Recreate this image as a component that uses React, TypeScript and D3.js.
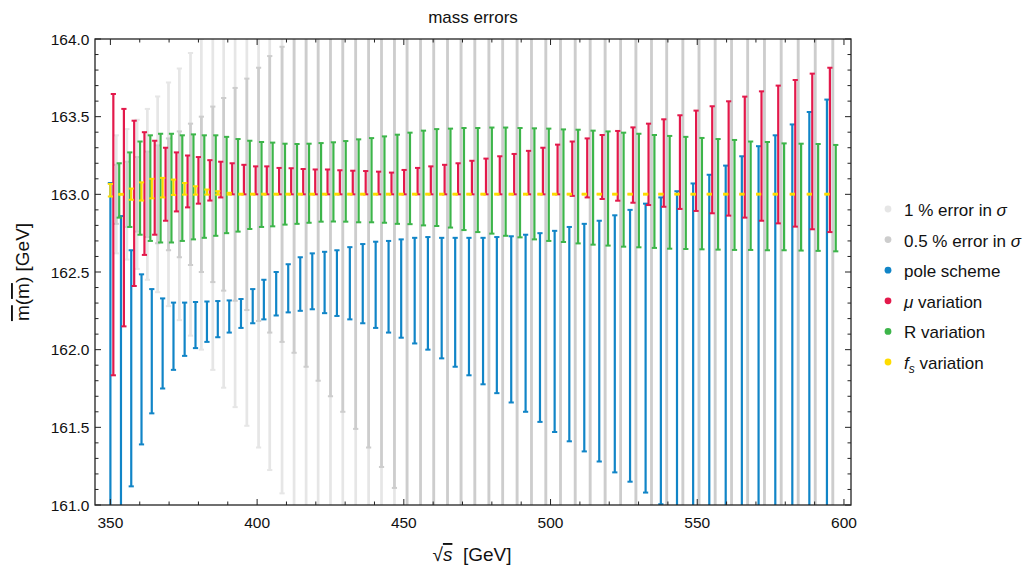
import React from 'react';
import * as d3 from 'd3';

// sqrt(s) of each group of error bars [GeV]
const sqrtS = [350.0, 353.6, 357.1, 360.6, 364.1, 367.8, 371.5, 375.3, 379.0, 382.9, 386.6, 390.5, 394.5, 398.5, 402.3, 406.5, 410.6, 414.7, 418.8, 423.0, 427.2, 431.6, 436.0, 440.4, 444.8, 449.1, 453.7, 458.2, 462.9, 467.5, 472.2, 477.0, 481.7, 486.6, 491.5, 496.4, 501.4, 506.4, 511.5, 516.6, 521.9, 527.1, 532.4, 537.6, 543.1, 548.6, 554.1, 559.7, 565.2, 570.9, 576.6, 582.4, 588.2, 594.2];

// half widths of the sigma-error bands (centred on 163.0)
const err1pct = [0.38, 0.42, 0.48, 0.55, 0.63, 0.72, 0.81, 0.91, 1.00, 1.13, 1.245, 1.37, 1.49, 1.63, 1.775, 1.925, 2.04, 2.22, 2.40, 2.60, 2.80, 3.02, 3.26, 3.51, 3.78, 4.06, 4.36, 4.68, 5.02, 5.38, 5.76, 6.16, 6.58, 7.02, 7.48, 7.96, 8.46, 8.98, 9.52, 10.08, 10.66, 11.26, 11.88, 12.52, 13.18, 13.86, 14.56, 15.28, 16.02, 16.78, 17.56, 18.36, 19.18, 20.0];
const err05pct = [0.19, 0.21, 0.24, 0.275, 0.315, 0.36, 0.405, 0.455, 0.50, 0.565, 0.62, 0.685, 0.745, 0.815, 0.89, 0.95, 1.02, 1.11, 1.20, 1.30, 1.40, 1.51, 1.63, 1.755, 1.89, 2.03, 2.18, 2.34, 2.51, 2.69, 2.88, 3.08, 3.29, 3.51, 3.74, 3.98, 4.23, 4.49, 4.76, 5.04, 5.33, 5.63, 5.94, 6.26, 6.59, 6.93, 7.28, 7.64, 8.01, 8.39, 8.78, 9.18, 9.59, 10.0];

// pole scheme
const poleLo = [160.0, 160.6, 161.12, 161.39, 161.59, 161.75, 161.87, 161.96, 162.01, 162.05, 162.08, 162.11, 162.14, 162.17, 162.195, 162.22, 162.24, 162.25, 162.26, 162.235, 162.217, 162.195, 162.17, 162.14, 162.11, 162.077, 162.04, 162.0, 161.944, 161.89, 161.835, 161.777, 161.72, 161.66, 161.60, 161.535, 161.47, 161.41, 161.345, 161.28, 161.21, 161.15, 161.08, 161.005, 160.93, 160.85, 160.77, 160.69, 160.6, 160.5, 160.4, 160.3, 160.2, 160.1];
const poleHi = [163.073, 162.86, 162.64, 162.485, 162.39, 162.33, 162.303, 162.303, 162.307, 162.31, 162.313, 162.317, 162.326, 162.39, 162.45, 162.50, 162.55, 162.595, 162.62, 162.63, 162.64, 162.66, 162.68, 162.695, 162.70, 162.71, 162.72, 162.725, 162.72, 162.72, 162.72, 162.72, 162.725, 162.73, 162.74, 162.75, 162.765, 162.79, 162.81, 162.83, 162.865, 162.90, 162.94, 162.98, 163.02, 163.07, 163.126, 163.185, 163.245, 163.31, 163.38, 163.45, 163.53, 163.61];

// mu variation
const muLo = [161.835, 162.15, 162.41, 162.61, 162.74, 162.83, 162.89, 162.916, 162.94, 162.96, 162.98, 163.0, 163.0, 163.0, 163.0, 163.0, 163.0, 163.0, 163.0, 163.0, 163.0, 163.0, 163.0, 163.0, 163.0, 163.0, 163.0, 163.0, 163.0, 163.0, 163.0, 163.0, 163.0, 163.0, 163.0, 163.0, 163.0, 162.99, 162.98, 162.97, 162.959, 162.946, 162.931, 162.92, 162.906, 162.893, 162.878, 162.863, 162.85, 162.83, 162.813, 162.792, 162.775, 162.757];
const muHi = [163.646, 163.55, 163.474, 163.40, 163.345, 163.30, 163.27, 163.25, 163.24, 163.22, 163.21, 163.20, 163.19, 163.18, 163.18, 163.17, 163.168, 163.163, 163.16, 163.16, 163.155, 163.152, 163.15, 163.146, 163.14, 163.157, 163.17, 163.18, 163.19, 163.20, 163.216, 163.23, 163.245, 163.26, 163.28, 163.30, 163.32, 163.34, 163.36, 163.382, 163.408, 163.431, 163.455, 163.483, 163.509, 163.539, 163.567, 163.599, 163.629, 163.663, 163.70, 163.736, 163.777, 163.815];

// R variation
const rLo = [162.85, 162.79, 162.74, 162.70, 162.69, 162.69, 162.70, 162.71, 162.72, 162.733, 162.75, 162.76, 162.777, 162.79, 162.794, 162.805, 162.81, 162.817, 162.824, 162.825, 162.824, 162.82, 162.82, 162.817, 162.81, 162.808, 162.80, 162.796, 162.786, 162.77, 162.757, 162.747, 162.733, 162.723, 162.71, 162.70, 162.693, 162.684, 162.676, 162.67, 162.663, 162.659, 162.655, 162.65, 162.648, 162.646, 162.644, 162.642, 162.642, 162.64, 162.64, 162.638, 162.636, 162.633];
const rHi = [163.20, 163.27, 163.34, 163.38, 163.39, 163.39, 163.38, 163.386, 163.38, 163.38, 163.37, 163.356, 163.345, 163.337, 163.333, 163.326, 163.324, 163.326, 163.33, 163.335, 163.343, 163.354, 163.362, 163.373, 163.384, 163.397, 163.41, 163.42, 163.423, 163.427, 163.427, 163.43, 163.43, 163.427, 163.425, 163.423, 163.418, 163.416, 163.41, 163.405, 163.397, 163.39, 163.382, 163.376, 163.37, 163.363, 163.356, 163.35, 163.34, 163.337, 163.328, 163.326, 163.324, 163.318];

// f_s variation
const fsLo = [162.986, 162.997, 162.965, 162.96, 162.974, 162.98, 162.996, 162.998, 162.998, 162.998, 162.998, 162.998, 162.998, 162.998, 162.998, 162.998, 162.998, 162.998, 162.998, 162.998, 162.998, 162.998, 162.998, 162.998, 162.998, 162.998, 162.998, 162.998, 162.998, 162.998, 162.998, 162.998, 162.998, 162.998, 162.998, 162.998, 162.998, 162.998, 162.998, 162.998, 162.998, 162.998, 162.998, 162.998, 162.998, 162.998, 162.998, 162.998, 162.998, 162.998, 162.998, 162.998, 162.998, 162.998];
const fsHi = [163.067, 163.003, 163.037, 163.077, 163.10, 163.106, 163.095, 163.073, 163.052, 163.031, 163.02, 163.01, 163.004, 163.004, 163.004, 163.004, 163.004, 163.004, 163.004, 163.004, 163.004, 163.004, 163.004, 163.004, 163.004, 163.004, 163.004, 163.004, 163.004, 163.004, 163.004, 163.004, 163.004, 163.004, 163.004, 163.004, 163.004, 163.004, 163.004, 163.004, 163.004, 163.004, 163.004, 163.004, 163.004, 163.004, 163.004, 163.004, 163.004, 163.004, 163.004, 163.004, 163.004, 163.004];

const CENTRAL = 163.0;
const xTickValues = [350, 400, 450, 500, 550, 600];
const yTickValues = [161.0, 161.5, 162.0, 162.5, 163.0, 163.5, 164.0];

const FONT = '"Liberation Sans", Arial, Helvetica, sans-serif';

type Series = { name: string; lo: number[]; hi: number[]; color: string; dx: number; w: number };

const seriesList: Series[] = [
  { name: '1 % error in σ', lo: err1pct.map((e) => CENTRAL - e), hi: err1pct.map((e) => CENTRAL + e), color: '#e6e6e6', dx: 2, w: 2.7 },
  { name: '0.5 % error in σ', lo: err05pct.map((e) => CENTRAL - e), hi: err05pct.map((e) => CENTRAL + e), color: '#cdcdcd', dx: 2, w: 2.7 },
  { name: 'pole scheme', lo: poleLo, hi: poleHi, color: '#1185c7', dx: 0, w: 2.2 },
  { name: 'mu', lo: muLo, hi: muHi, color: '#e3194b', dx: 1, w: 2.2 },
  { name: 'R variation', lo: rLo, hi: rHi, color: '#3db54a', dx: 3, w: 2.2 },
  { name: 'fs', lo: fsLo, hi: fsHi, color: '#fedc00', dx: 0, w: 2.2 },
];

export default function App() {
  const W = 1028;
  const H = 570;
  const L = 95, R = 851, T = 39, B = 505;
  const x = d3.scaleLinear().domain([344.75, 602.4]).range([L, R]);
  const y = d3.scaleLinear().domain([161, 164]).range([B, T]);

  const xMinor = d3.range(350, 601, 10).filter((v) => v % 50 !== 0);
  const yMinor = d3.range(0, 31).map((i) => 161 + i * 0.1).filter((v, i) => i % 5 !== 0);
  const capHalf = 2.6;

  const legendY0 = 210;
  const legendDy = 30.6;

  return (
    <svg width={W} height={H} viewBox={`0 0 ${W} ${H}`} style={{ position: 'absolute', left: 0, top: 0, background: '#fff' }} fontFamily={FONT}>
      <defs>
        <clipPath id="plotclip">
          <rect x={L} y={T} width={R - L} height={B - T} />
        </clipPath>
      </defs>
      <rect x={0} y={0} width={W} height={H} fill="#fff" />
      <g clipPath="url(#plotclip)">
        {seriesList.map((s, si) => (
          <g key={si} stroke={s.color} fill="none">
            {sqrtS.map((sv, i) => {
              const cx = x(sv + s.dx);
              const y1 = y(s.hi[i]);
              const y2 = y(s.lo[i]);
              return (
                <g key={i}>
                  <line x1={cx} x2={cx} y1={y1} y2={y2} strokeWidth={s.w} />
                  <line x1={cx - capHalf} x2={cx + capHalf} y1={y1} y2={y1} strokeWidth={2} />
                  <line x1={cx - capHalf} x2={cx + capHalf} y1={y2} y2={y2} strokeWidth={2} />
                </g>
              );
            })}
          </g>
        ))}
      </g>
      {/* frame */}
      <rect x={L} y={T} width={R - L} height={B - T} fill="none" stroke="#222" strokeWidth={1.3} />
      {/* x ticks */}
      <g stroke="#222" strokeWidth={1}>
        {xTickValues.map((v) => (
          <g key={'xt' + v}>
            <line x1={x(v)} x2={x(v)} y1={B} y2={B - 6} />
            <line x1={x(v)} x2={x(v)} y1={T} y2={T + 6} />
          </g>
        ))}
        {xMinor.map((v) => (
          <g key={'xm' + v}>
            <line x1={x(v)} x2={x(v)} y1={B} y2={B - 3.5} />
            <line x1={x(v)} x2={x(v)} y1={T} y2={T + 3.5} />
          </g>
        ))}
        {yTickValues.map((v) => (
          <g key={'yt' + v}>
            <line x1={L} x2={L + 6} y1={y(v)} y2={y(v)} />
            <line x1={R} x2={R - 6} y1={y(v)} y2={y(v)} />
          </g>
        ))}
        {yMinor.map((v, i) => (
          <g key={'ym' + i}>
            <line x1={L} x2={L + 3.5} y1={y(v)} y2={y(v)} />
            <line x1={R} x2={R - 3.5} y1={y(v)} y2={y(v)} />
          </g>
        ))}
      </g>
      <g fontSize={15.5} fill="#111">
        {xTickValues.map((v) => (
          <text key={'xl' + v} x={x(v)} y={528} textAnchor="middle">{v}</text>
        ))}
        {yTickValues.map((v) => (
          <text key={'yl' + v} x={89.5} y={y(v) + 5.5} textAnchor="end">{v.toFixed(1)}</text>
        ))}
      </g>
      {/* title */}
      <text x={(L + R) / 2} y={23} textAnchor="middle" fontSize={17} fill="#111">mass errors</text>
      {/* x label */}
      <text x={472} y={561} textAnchor="middle" fontSize={19} fill="#111">
        <tspan>√</tspan>
        <tspan fontStyle="italic" style={{ textDecoration: 'overline' }}>s</tspan>
        <tspan>{'\u00a0 [GeV]'}</tspan>
      </text>
      {/* y label */}
      <text transform={`translate(29,${(T + B) / 2}) rotate(-90)`} textAnchor="middle" fontSize={19} fill="#111">
        <tspan style={{ textDecoration: 'overline' }}>m</tspan>
        <tspan>(</tspan>
        <tspan style={{ textDecoration: 'overline' }}>m</tspan>
        <tspan>) [GeV]</tspan>
      </text>
      {/* legend */}
      <g fontSize={17} fill="#111">
        {seriesList.map((s, i) => {
          const ly = legendY0 + i * legendDy;
          return (
            <g key={'lg' + i}>
              <circle cx={888} cy={ly - 1} r={3.4} fill={s.color} />
              <text x={904} y={ly + 6}>
                {i === 0 && <>1 % error in <tspan fontStyle="italic">σ</tspan></>}
                {i === 1 && <>0.5 % error in <tspan fontStyle="italic">σ</tspan></>}
                {i === 2 && 'pole scheme'}
                {i === 3 && <><tspan fontStyle="italic">μ</tspan> variation</>}
                {i === 4 && 'R variation'}
                {i === 5 && <><tspan fontStyle="italic">f</tspan><tspan fontStyle="italic" fontSize={12} dy={4}>s</tspan><tspan dy={-4}> variation</tspan></>}
              </text>
            </g>
          );
        })}
      </g>
    </svg>
  );
}
